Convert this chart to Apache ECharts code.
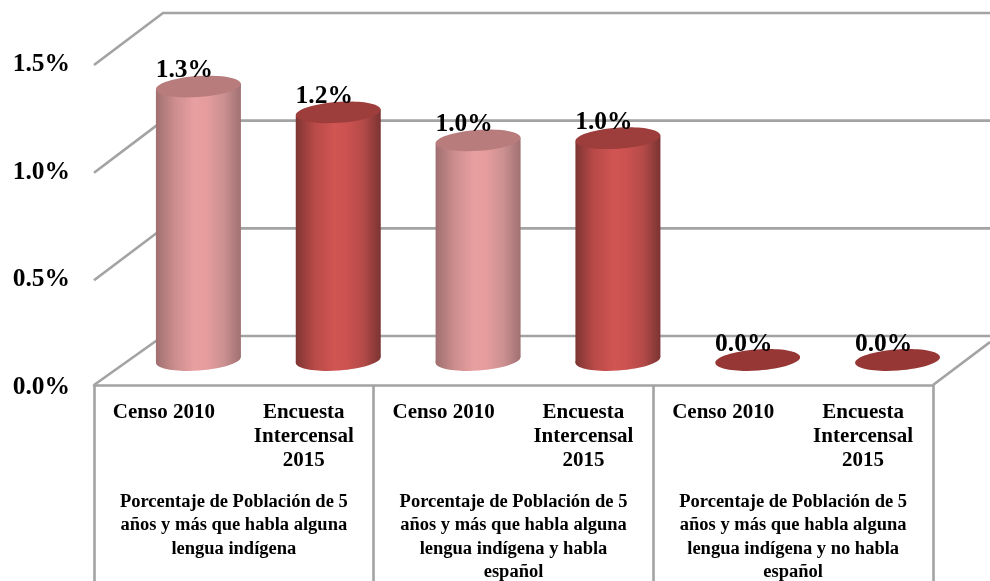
<!DOCTYPE html>
<html>
<head>
<meta charset="utf-8">
<style>html,body{margin:0;padding:0;background:#fff}#c{width:990px;height:581px}</style>
<script src="https://cdn.jsdelivr.net/npm/echarts@6/dist/echarts.min.js"></script>
</head>
<body>
<div id="c"></div>
<script>
var subCategories = ['Censo 2010', 'Encuesta\nIntercensal\n2015', 'Censo 2010', 'Encuesta\nIntercensal\n2015', 'Censo 2010', 'Encuesta\nIntercensal\n2015'];
var groupCategories = [
  'Porcentaje de Población de 5\naños y más que habla alguna\nlengua indígena',
  'Porcentaje de Población de 5\naños y más que habla alguna\nlengua indígena y habla\nespañol',
  'Porcentaje de Población de 5\naños y más que habla alguna\nlengua indígena y no habla\nespañol'
];
var values = [1.27, 1.15, 1.02, 1.03, 0.0, 0.0];
var valueLabels = ['1.3%', '1.2%', '1.0%', '1.0%', '0.0%', '0.0%'];
var kinds = [0, 1, 0, 1, 0, 1];
var yTicks = [0, 0.5, 1, 1.5];

var FONT = '"Liberation Serif","Times New Roman",serif';
var GRID = '#a3a3a3';
var DX = 34.5, DY = -25, RX = 42.5, RY = 10.5, TILT = 0.07;
var PAL = [
  { side: ['#a06f70', '#cc8d8e', '#e89f9f', '#e69c9c', '#cb9091', '#a07072'], top: '#b87c7d' },
  { side: ['#7f3533', '#b84a48', '#d05553', '#cc5250', '#b34a48', '#7a3432'], top: '#9d3d3c' }
];
var FLAT = '#963736';

function renderWall(params, api) {
  var v = api.value(0);
  var cs = params.coordSys;
  var y = api.coord([0, v])[1];
  var x0 = cs.x, x1 = cs.x + cs.width;
  var backY = y - 49;
  var frontY = v === 0 ? y : backY + 52;
  var ls = { stroke: GRID, lineWidth: 2.6, fill: null };
  var kids = [{ type: 'polyline', shape: { points: [[x0, frontY], [x0 + 69, backY], [990, backY]] }, style: ls }];
  if (v === 0) kids.push({ type: 'line', shape: { x1: x1, y1: y, x2: 990, y2: y - 43 }, style: ls });
  return { type: 'group', children: kids };
}

function renderBar(params, api) {
  var i = api.value(0), v = api.value(1);
  var p0 = api.coord([i, 0]), p1 = api.coord([i, v]);
  var cx = p0[0] + DX, by = p0[1] + DY, ty = p1[1] + DY;
  var pal = PAL[kinds[i]];
  var tilt = RX * Math.sin(TILT);
  function ell(cy, fill) {
    return { type: 'ellipse', shape: { cx: cx, cy: cy, rx: RX, ry: RY }, rotation: TILT, originX: cx, originY: cy, style: { fill: fill } };
  }
  if (v === 0) return { type: 'group', children: [ell(by, FLAT)] };
  var stops = pal.side.map(function (c, k) { return { offset: [0, 0.22, 0.45, 0.6, 0.8, 1][k], color: c }; });
  var grad = { type: 'linear', x: 0, y: 0, x2: 1, y2: 0, colorStops: stops };
  return {
    type: 'group',
    children: [
      ell(by, grad),
      { type: 'polygon', shape: { points: [[cx - RX, ty + tilt], [cx + RX, ty - tilt], [cx + RX, by - tilt], [cx - RX, by + tilt]] }, style: { fill: grad } },
      ell(ty, pal.top)
    ]
  };
}

function renderLabel(params, api) {
  var i = api.value(0);
  var p = api.coord([i, api.value(1)]);
  return {
    type: 'text',
    style: { x: p[0] + DX - 14, y: p[1] + DY - 16, text: valueLabels[i], font: 'bold 25.5px ' + FONT, fill: '#000', align: 'center', verticalAlign: 'middle' }
  };
}

var barData = values.map(function (v, i) { return [i, v]; });

var chart = echarts.init(document.getElementById('c'), null, { renderer: 'canvas' });
chart.setOption({
  animation: false,
  backgroundColor: '#fff',
  grid: { left: 94, right: 57, top: 62, height: 323, containLabel: false, outerBoundsMode: 'none' },
  xAxis: [
    {
      type: 'category', data: subCategories, position: 'bottom', offset: 0,
      axisTick: { show: false },
      axisLine: { show: true, lineStyle: { color: GRID, width: 2.6 } },
      axisLabel: { interval: 0, margin: 16, verticalAlign: 'top', lineHeight: 24, color: '#000', fontFamily: FONT, fontWeight: 'bold', fontSize: 21 }
    },
    {
      type: 'category', data: groupCategories, position: 'bottom', offset: 0,
      axisTick: { show: true, length: 200, lineStyle: { color: GRID, width: 2.6 } },
      axisLine: { show: false },
      axisLabel: { interval: 0, margin: 105, verticalAlign: 'top', lineHeight: 23.5, color: '#000', fontFamily: FONT, fontWeight: 'bold', fontSize: 18.5 }
    }
  ],
  yAxis: {
    type: 'value', min: 0, max: 1.5, interval: 0.5,
    axisLine: { show: false }, axisTick: { show: false }, splitLine: { show: false },
    axisLabel: {
      margin: 24, color: '#000', fontFamily: FONT, fontWeight: 'bold', fontSize: 25.5,
      formatter: function (v) { return '{a|' + v.toFixed(1) + '%}'; },
      rich: { a: { padding: [5, 0, 0, 0], fontFamily: FONT, fontWeight: 'bold', fontSize: 25.5, color: '#000' } }
    }
  },
  series: [
    { type: 'custom', name: 'walls', z: 1, clip: false, renderItem: renderWall, data: yTicks.map(function (t) { return [t]; }), encode: { y: 0 }, silent: true },
    { type: 'custom', name: 'bars', z: 3, clip: false, renderItem: renderBar, data: barData, encode: { x: 0, y: 1 } },
    { type: 'custom', name: 'labels', z: 5, clip: false, renderItem: renderLabel, data: barData, encode: { x: 0, y: 1 } }
  ]
});
</script>
</body>
</html>
